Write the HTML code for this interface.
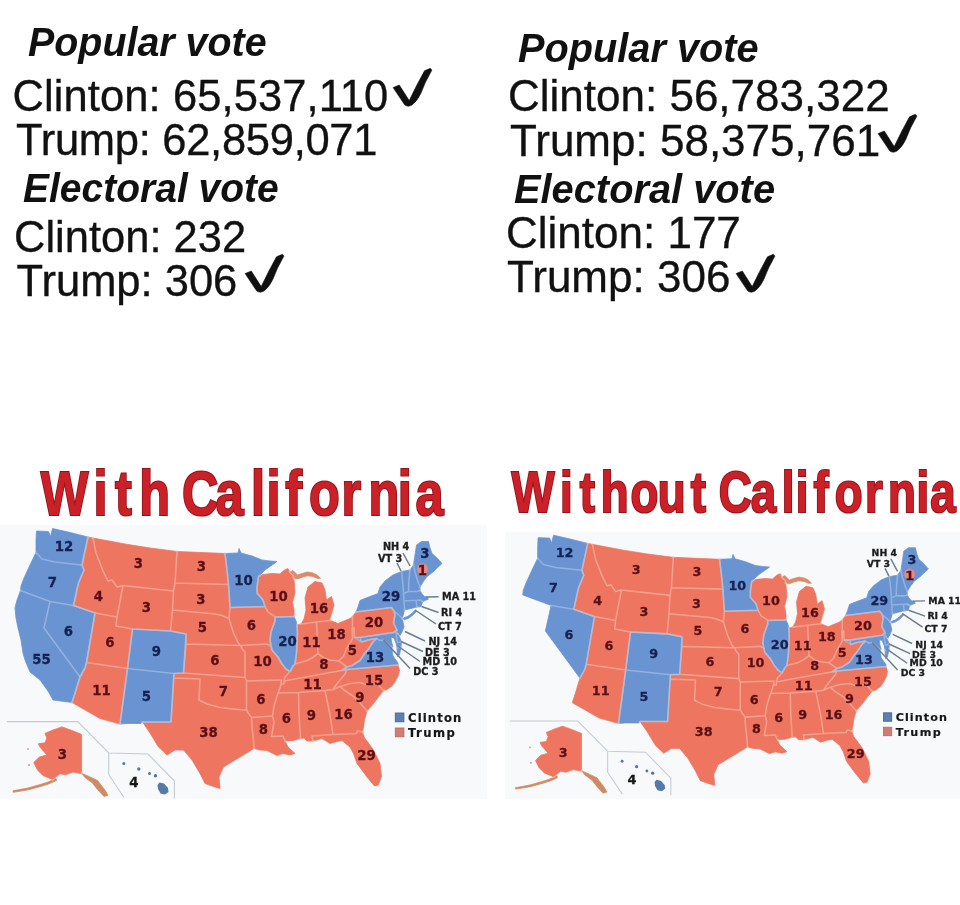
<!DOCTYPE html>
<html><head><meta charset="utf-8"><title>With / Without California</title>
<style>
html,body{margin:0;padding:0;background:#fff;}
body{width:960px;height:905px;position:relative;overflow:hidden;font-family:"Liberation Sans",sans-serif;color:#111;}
.t{position:absolute;white-space:nowrap;line-height:1;margin:0;}
.h{font-weight:bold;font-style:italic;font-size:40px;transform-origin:0 50%;}
.r{font-size:43.5px;-webkit-text-stroke:0.35px #111;}
.r2{font-size:44px;-webkit-text-stroke:0.35px #111;}
.ck{position:absolute;overflow:visible;}
svg text.n{font-family:"DejaVu Sans","Liberation Sans",sans-serif;font-weight:bold;font-size:13.3px;fill:#5a1116;stroke:#5a1116;stroke-width:0.3px;}
svg text.b{fill:#172050;stroke:#172050;}
svg text.k{fill:#151515;stroke:#151515;}
svg text.s{font-family:"DejaVu Sans","Liberation Sans",sans-serif;font-weight:bold;font-size:9.7px;fill:#1c1c1c;stroke:#1c1c1c;stroke-width:0.3px;}
svg text.lg{font-family:"DejaVu Sans","Liberation Sans",sans-serif;font-weight:bold;font-size:11.6px;fill:#161616;stroke:#161616;stroke-width:0.2px;}
svg text.hd{font-family:"Liberation Sans",sans-serif;font-weight:bold;fill:#cc2028;stroke:#92141a;stroke-width:2.2px;paint-order:stroke;}
.map{position:absolute;left:0;top:0;}
</style></head><body>
<div class="t h" style="left:27.5px;top:21.5px;transform:scaleX(0.985)">Popular vote</div>
<div class="t r" style="left:12.5px;top:74.5px;letter-spacing:0.09px">Clinton: 65,537,110</div>
<div class="t r" style="left:16px;top:119px;letter-spacing:-0.28px">Trump: 62,859,071</div>
<div class="t h" style="left:22.5px;top:168px;transform:scaleX(0.975)">Electoral vote</div>
<div class="t r" style="left:14px;top:216px;">Clinton: 232</div>
<div class="t r" style="left:16.5px;top:260px;">Trump: 306</div>
<div class="t h" style="left:517.5px;top:27.5px;transform:scaleX(0.993)">Popular vote</div>
<div class="t r2" style="left:508px;top:74px;">Clinton: 56,783,322</div>
<div class="t r2" style="left:510px;top:118.5px;">Trump: 58,375,761</div>
<div class="t h" style="left:513.5px;top:169px;transform:scaleX(0.995)">Electoral vote</div>
<div class="t r2" style="left:506px;top:211px;">Clinton: 177</div>
<div class="t r2" style="left:507px;top:254.7px;">Trump: 306</div>
<div class="ck" style="left:393.1px;top:67.6px;"><svg class="ck" viewBox="0 0 40 40" width="40" height="40"><path d="M0.1 19.6 L6.3 17 L16.2 32.6 Q23.8 16.6 31.5 2.8 L37.3 0.3 L38.9 2.1 Q32 14 27.8 25.4 Q24.5 32 21.3 34.9 Q18 38.5 15.4 38.2 Q13 38 11.8 37.1 Z" fill="#101010" stroke="#101010" stroke-width="0.6" stroke-linejoin="round"/></svg></div>
<div class="ck" style="left:244.6px;top:253.7px;"><svg class="ck" viewBox="0 0 40 40" width="40" height="40"><path d="M0.1 19.6 L6.3 17 L16.2 32.6 Q23.8 16.6 31.5 2.8 L37.3 0.3 L38.9 2.1 Q32 14 27.8 25.4 Q24.5 32 21.3 34.9 Q18 38.5 15.4 38.2 Q13 38 11.8 37.1 Z" fill="#101010" stroke="#101010" stroke-width="0.6" stroke-linejoin="round"/></svg></div>
<div class="ck" style="left:877.5px;top:114.3px;"><svg class="ck" viewBox="0 0 40 40" width="40" height="40"><path d="M0.1 19.6 L6.3 17 L16.2 32.6 Q23.8 16.6 31.5 2.8 L37.3 0.3 L38.9 2.1 Q32 14 27.8 25.4 Q24.5 32 21.3 34.9 Q18 38.5 15.4 38.2 Q13 38 11.8 37.1 Z" fill="#101010" stroke="#101010" stroke-width="0.6" stroke-linejoin="round"/></svg></div>
<div class="ck" style="left:735.8px;top:254.3px;"><svg class="ck" viewBox="0 0 40 40" width="40" height="40"><path d="M0.1 19.6 L6.3 17 L16.2 32.6 Q23.8 16.6 31.5 2.8 L37.3 0.3 L38.9 2.1 Q32 14 27.8 25.4 Q24.5 32 21.3 34.9 Q18 38.5 15.4 38.2 Q13 38 11.8 37.1 Z" fill="#101010" stroke="#101010" stroke-width="0.6" stroke-linejoin="round"/></svg></div>
<svg class="map" width="960" height="905" viewBox="0 0 960 905">
<rect x="0" y="525" width="487" height="274" fill="#f7f9fb"/>
<rect x="505" y="532" width="455" height="267" fill="#f7f9fb"/>
<text class="hd" transform="scale(0.8,1)" y="515" font-size="63" x="50.8 116.9 143.7 174.1 184.1 227.6 269.5 313.8 333.2 356.6 386.4 427.0 460.6 497.2 519.5">With California</text>
<text class="hd" transform="scale(0.8,1)" y="512.5" font-size="57" x="639.3 700.1 724.8 751.1 788.0 822.1 863.3 873.3 898.3 938.3 977.1 994.8 1016.9 1043.5 1081.4 1109.9 1145.5 1162.8">Without California</text>
<defs><filter id="soft" x="-2%" y="-2%" width="104%" height="104%"><feGaussianBlur stdDeviation="0.6"/></filter></defs>
<g id="mapL" filter="url(#soft)">
<polygon points="88,537 93,538 96,553 103,571 108,581 112,580 117,587 123,585.5 117,617 95,613 73.5,605.5 78.5,583 84,570 82,565" fill="#ee7560" stroke="#ee7560" stroke-width="0.8" stroke-linejoin="round"/>
<polygon points="93,538 125,544 150,548 177,551.5 175,583 173.5,591 123,585.5 117,587 112,580 108,581 103,571 96,553" fill="#ee7560" stroke="#ee7560" stroke-width="0.8" stroke-linejoin="round"/>
<polygon points="123,585.5 173.5,591 172.5,610 170.5,631 132.5,629 116,626 117,617" fill="#ee7560" stroke="#ee7560" stroke-width="0.8" stroke-linejoin="round"/>
<polygon points="95,613 117,617 116,626 132.5,629 127.5,668.5 86.5,662.5" fill="#ee7560" stroke="#ee7560" stroke-width="0.8" stroke-linejoin="round"/>
<polygon points="86.5,662.5 127.5,668.5 120,724 100,718.5 72,702.5 76,690 80,677 85,668" fill="#ee7560" stroke="#ee7560" stroke-width="0.8" stroke-linejoin="round"/>
<polygon points="177,551.5 225,553.5 227,570 228.5,584.5 175,583" fill="#ee7560" stroke="#ee7560" stroke-width="0.8" stroke-linejoin="round"/>
<polygon points="175,583 228.5,584.5 230,607.5 229,618.5 222,615.5 215,614 172.5,610 173.5,591" fill="#ee7560" stroke="#ee7560" stroke-width="0.8" stroke-linejoin="round"/>
<polygon points="172.5,610 215,614 222,615.5 229,618.5 233.5,633 238.5,643.5 240.5,645.5 186,644 186,634 170.5,631" fill="#ee7560" stroke="#ee7560" stroke-width="0.8" stroke-linejoin="round"/>
<polygon points="186,644 240.5,645.5 243,650 245,652 245,677.5 183.5,673" fill="#ee7560" stroke="#ee7560" stroke-width="0.8" stroke-linejoin="round"/>
<polygon points="174,673.5 183.5,673 245,677.5 246.5,681 246.5,710 243,710 233,709 220,707.5 207,704 199,700 200,679 173.7,678" fill="#ee7560" stroke="#ee7560" stroke-width="0.8" stroke-linejoin="round"/>
<polygon points="173.7,678 200,679 199,700 207,704 220,707.5 233,709 243,710 246.5,710 248.5,713.5 251.5,717.5 252,727 253.5,740 254,748.5 240,757 223.5,767 219,777 220,788.5 215,787 205,783.5 200,773.5 192,760 183.5,750 175,750 167,755 158.5,747 150,733 143.5,723.5 142,722 171,722" fill="#ee7560" stroke="#ee7560" stroke-width="0.8" stroke-linejoin="round"/>
<polygon points="230,607.5 265,606.5 268,612 274,616 275,617 275,621 271,632 270,640 271,646 267,644 240.5,645.5 238.5,643.5 233.5,633 229,618.5" fill="#ee7560" stroke="#ee7560" stroke-width="0.8" stroke-linejoin="round"/>
<polygon points="240.5,645.5 267,644 271,646 272,650 278,657 282,664 286,669 290,671.5 285,677 284,681 284,684 281,684 281.5,680 246.5,681 245,677.5 245,652 243,650" fill="#ee7560" stroke="#ee7560" stroke-width="0.8" stroke-linejoin="round"/>
<polygon points="246.5,681 281.5,680 281,684 280,688 278,693 274,706 272.5,716 251.5,717.5 248.5,713.5 246.5,710" fill="#ee7560" stroke="#ee7560" stroke-width="0.8" stroke-linejoin="round"/>
<polygon points="251.5,717.5 272.5,716 274,722 273,728 271.5,736.5 283,736 285,741 288,747 295,753.5 290,755 283,753.5 277,755.5 267,750.5 260,750 254,748.5 253.5,740 252,727" fill="#ee7560" stroke="#ee7560" stroke-width="0.8" stroke-linejoin="round"/>
<polygon points="278,693 298.5,692.5 299,715 300.5,738.5 293,740.5 285,741 283,736 271.5,736.5 273,728 274,722 272.5,716 274,706" fill="#ee7560" stroke="#ee7560" stroke-width="0.8" stroke-linejoin="round"/>
<polygon points="298.5,692.5 325,690.5 330,715 332,728 333,734.5 312,736 313,741 307,741 304,738 300.5,738.5 299,715" fill="#ee7560" stroke="#ee7560" stroke-width="0.8" stroke-linejoin="round"/>
<polygon points="284,681 300,678 341.5,670.5 347,669.5 345,674 340,680 336,685 333,689.5 325,690.5 298.5,692.5 278,693 280,688 281,684 284,684" fill="#ee7560" stroke="#ee7560" stroke-width="0.8" stroke-linejoin="round"/>
<polygon points="284,681 285,677 290,671.5 293,666 295,664 298,663 306,661 312,658 318,653.5 324,658 330,660 338.5,661 343,664 347,667 341.5,670.5 300,678" fill="#ee7560" stroke="#ee7560" stroke-width="0.8" stroke-linejoin="round"/>
<polygon points="258.5,576.5 263,574.5 272,573.5 280,574 284.5,570 288,568.5 289.5,572 293,575.5 294.5,584 295,592.5 292.5,602.5 294,610 294,616.5 275,617 274,616 268,612 265,606.5 263,600 257,593 257,587" fill="#ee7560" stroke="#ee7560" stroke-width="0.8" stroke-linejoin="round"/>
<polygon points="289.5,572 293,570.5 297.5,575 302,573.5 307.5,572 313,573 317.5,575.3 320.5,578.3 317.5,578.5 313,576.5 307.5,575.8 302,577.2 297.5,579 294,578 293,575.5" fill="#dd8a68" stroke="#dd8a68" stroke-width="0.8" stroke-linejoin="round"/>
<polygon points="301,624 304,619 306,610 305,598 308,587 315,581.5 322,583 325,590 326.5,600 331.5,596.5 334,605 332,612 330,618.5 330,620.5 316.5,622" fill="#ee7560" stroke="#ee7560" stroke-width="0.8" stroke-linejoin="round"/>
<polygon points="297,625 301,624 316.5,622 318,653.5 312,658 306,661 298,663 295,664 296.5,653 297.5,633" fill="#ee7560" stroke="#ee7560" stroke-width="0.8" stroke-linejoin="round"/>
<polygon points="316.5,622 330,620.5 338,623.5 350,618.5 352.5,616.5 352.5,638.5 350,643 346.5,648.5 343.5,656.5 338.5,661 330,660 324,658 318,653.5" fill="#ee7560" stroke="#ee7560" stroke-width="0.8" stroke-linejoin="round"/>
<polygon points="338.5,661 343.5,656.5 346.5,648.5 350,643 352.5,638.5 352,628 354,628 354.5,637.5 360,637.5 361.5,642 368,640 376.5,638.5 373,642 368.5,649 365,653 360,660.5 352,665.5 347,667 343,664" fill="#ee7560" stroke="#ee7560" stroke-width="0.8" stroke-linejoin="round"/>
<polygon points="352.5,616.5 356,612 391.5,607.5 394,611 395,615 393.5,623 397,630 395.5,631 393.5,632.5 360,637.5 354.5,637.5 354,628 352,628 352.5,638.5" fill="#ee7560" stroke="#ee7560" stroke-width="0.8" stroke-linejoin="round"/>
<polygon points="347,669.5 398,665 399.5,670 398.5,675 395.5,681 392,686 387,689.5 383.5,690.5 377,683.5 367,685 360,682.5 350,683.5 340,686.5 333,689.5 336,685 340,680 345,674" fill="#ee7560" stroke="#ee7560" stroke-width="0.8" stroke-linejoin="round"/>
<polygon points="340,686.5 350,683.5 360,682.5 367,685 377,683.5 383.5,690.5 378,697.5 373.5,703.5 367,711 360,703 353.5,696.5 344,690" fill="#ee7560" stroke="#ee7560" stroke-width="0.8" stroke-linejoin="round"/>
<polygon points="325,690.5 333,689.5 340,686.5 344,690 353.5,696.5 360,703 367,711 364.5,720 363.5,727 362.5,732 357.5,731 356.5,733.5 333,734.5 332,728 330,715" fill="#ee7560" stroke="#ee7560" stroke-width="0.8" stroke-linejoin="round"/>
<polygon points="312,736 333,734.5 356.5,733.5 357.5,731 362.5,732 364.5,738 367,741 373.5,750 380,763.5 381.5,776.5 378.3,785 374.5,786 367,777 357,763.5 353.5,753.5 350,747 342,740.5 337,741.5 330,743.5 322,738.5 313,741" fill="#ee7560" stroke="#ee7560" stroke-width="0.8" stroke-linejoin="round"/>
<polygon points="45,733.4 53,730 61.9,726.9 72,730.5 81.6,734.4 81.6,773.75 73,772 65.6,774.7 60,773.75 52.5,779.4 43,775.6 37.5,770 33.75,762.5 39.4,757 46.9,755 40.3,747.5 38.4,743.75 45,742.8 46.9,738" fill="#ee7560" stroke="#ee7560" stroke-width="0.8" stroke-linejoin="round"/>
<polygon points="81.6,773.2 90,777 97.5,780.5 105,790.2 108,795.3 104,796.5 97.5,789.5 92.5,783 85,777.5" fill="#cf8a63" stroke="#cf8a63" stroke-width="0.8" stroke-linejoin="round"/>
<polygon points="56,778.5 48,782 41,784.3 28,788 13,790.8 13.3,792.3 28.5,789.8 41.5,786.2 49,783.8 56.5,780.5" fill="#cf8a63" stroke="#cf8a63" stroke-width="0.8" stroke-linejoin="round"/>
<polygon points="36.5,531 48.5,531.5 50.5,536.5 52.5,528.5 70,532.5 88,537 82,565 55,562 42,559 36,552.5 36,540" fill="#6993d1" stroke="#6993d1" stroke-width="0.8" stroke-linejoin="round"/>
<polygon points="36,552.5 42,559 55,562 82,565 84,570 78.5,583 73.5,605.5 50,601.5 20.5,590.5 21,586 24,578 30,565" fill="#6993d1" stroke="#6993d1" stroke-width="0.8" stroke-linejoin="round"/>
<polygon points="20.5,590.5 50,601.5 44,628 80,677 76,690 72,702.5 53,700 48,691 40,680 30,672 25,660 23,653 21,640 18,628 16,618 15,608 17,600" fill="#6993d1" stroke="#6993d1" stroke-width="0.8" stroke-linejoin="round"/>
<polygon points="50,601.5 73.5,605.5 95,613 86.5,662.5 85,668 80,677 44,628" fill="#6993d1" stroke="#6993d1" stroke-width="0.8" stroke-linejoin="round"/>
<polygon points="132.5,629 170.5,631 186,634 183.5,673 174,673.5 127.5,668.5" fill="#6993d1" stroke="#6993d1" stroke-width="0.8" stroke-linejoin="round"/>
<polygon points="127.5,668.5 174,673.5 171,722 142,722 141,723.5 127,723.5 120,724" fill="#6993d1" stroke="#6993d1" stroke-width="0.8" stroke-linejoin="round"/>
<polygon points="225,553.5 238,553 239,548.5 241,553 252,556 262,560 270,561 277,561.5 265,570 258.5,576.5 257,587 257,593 263,600 265,606.5 230,607.5 228.5,584.5 227,570" fill="#6993d1" stroke="#6993d1" stroke-width="0.8" stroke-linejoin="round"/>
<polygon points="275,617 294,616.5 296,621 297,625 297.5,633 296.5,653 295,664 293,666 290,671.5 286,669 282,664 278,657 272,650 271,646 270,640 271,632 275,621" fill="#6993d1" stroke="#6993d1" stroke-width="0.8" stroke-linejoin="round"/>
<polygon points="341.5,670.5 347,667 352,665.5 360,660.5 365,653 368.5,649 373,642 376.5,638.5 380,640.5 383.5,640 388,644 391.5,647 393,656 398,663 398,665 347,669.5" fill="#6993d1" stroke="#6993d1" stroke-width="0.8" stroke-linejoin="round"/>
<polygon points="397,648 401,647 399.5,655 397.5,656.5" fill="#6993d1" stroke="#6993d1" stroke-width="0.8" stroke-linejoin="round"/>
<polygon points="356,612 358,607 360,600.5 363.5,599 378,593.5 380,587 385,581 393,575 401.5,571.5 403,585 403.5,593.5 404,601 404.5,610 403.5,614 402,618.5 400,616 394,611 391.5,607.5" fill="#6993d1" stroke="#6993d1" stroke-width="0.8" stroke-linejoin="round"/>
<polygon points="401.5,571.5 410,570 409,580 408.5,591.5 403.5,593.5 403,585" fill="#6993d1" stroke="#6993d1" stroke-width="0.8" stroke-linejoin="round"/>
<polygon points="410,570 413.5,565 415,572 418,582 420,587 420,590.5 417,591.5 408.5,591.5 409,580" fill="#6993d1" stroke="#6993d1" stroke-width="0.8" stroke-linejoin="round"/>
<polygon points="413.5,565 415,555 416.5,545 421.5,541.5 428.5,541.5 430,548 432,553.5 437,558 442,563.5 437,568 433,572 427,576.5 423,582 420,587 418,582 415,572" fill="#6993d1" stroke="#6993d1" stroke-width="0.8" stroke-linejoin="round"/>
<polygon points="403.5,593.5 408.5,591.5 417,591.5 420,590.5 422,594 424.5,596.5 427.5,597.3 428.3,599.3 425.5,600.3 423,601.5 420,600 404,601" fill="#6993d1" stroke="#6993d1" stroke-width="0.8" stroke-linejoin="round"/>
<polygon points="404,601 416,600.3 417,607 413,608 404.5,610" fill="#6993d1" stroke="#6993d1" stroke-width="0.8" stroke-linejoin="round"/>
<polygon points="416,600.3 420,600 422.5,602 421,606.5 417,607" fill="#6993d1" stroke="#6993d1" stroke-width="0.8" stroke-linejoin="round"/>
<polygon points="403.5,618 408,616.3 412,613.3 415.5,609.8 416.3,611.5 412.5,615.5 408,618.5 404,619.8" fill="#6993d1" stroke="#6993d1" stroke-width="0.8" stroke-linejoin="round"/>
<polygon points="394,611 400,616 402,618.5 403,622 404,627 402,632 400,635.5 396.5,632 397,630 393.5,623 395,615" fill="#6993d1" stroke="#6993d1" stroke-width="0.8" stroke-linejoin="round"/>
<polygon points="395.5,631 397,630 396.5,632.5 399.5,637 401.5,642 397.5,642.5" fill="#6993d1" stroke="#6993d1" stroke-width="0.8" stroke-linejoin="round"/>
<polygon points="354.5,637.5 360,637.5 393.5,632.5 395.5,631 397.5,642.5 401.5,642 401,647 397,648 396,643 394,638 391,637 391.5,642 393,647 391.5,647 388,644 383.5,640 380,640.5 376.5,638.5 368,640 361.5,642" fill="#6993d1" stroke="#6993d1" stroke-width="0.8" stroke-linejoin="round"/>
<path d="M88.7 537.1 L88.0 537.0 L82.0 565.0 L84.0 570.0 L78.5 583.0 L73.5 605.5 L95.0 613.0 L117.0 617.0 L123.0 585.5 L117.0 587.0 L112.0 580.0 L108.0 581.0 L103.0 571.0 L96.0 553.0 L93.0 538.0 L92.3 537.9 M93.7 538.1 L93.0 538.0 L96.0 553.0 L103.0 571.0 L108.0 581.0 L112.0 580.0 L117.0 587.0 L123.0 585.5 L173.5 591.0 L175.0 583.0 L177.0 551.5 L176.3 551.4 M123.0 585.5 L117.0 617.0 L116.0 626.0 L132.5 629.0 L170.5 631.0 L172.5 610.0 L173.5 591.0 L123.0 585.5 M95.0 613.0 L86.5 662.5 L127.5 668.5 L132.5 629.0 L116.0 626.0 L117.0 617.0 L95.0 613.0 M119.3 723.8 L120.0 724.0 L127.5 668.5 L86.5 662.5 L85.0 668.0 L80.0 677.0 L76.0 690.0 L72.0 702.5 L72.6 702.8 M177.7 551.5 L177.0 551.5 L175.0 583.0 L228.5 584.5 L227.0 570.0 L225.0 553.5 L224.3 553.5 M175.0 583.0 L173.5 591.0 L172.5 610.0 L215.0 614.0 L222.0 615.5 L229.0 618.5 L230.0 607.5 L228.5 584.5 L175.0 583.0 M172.5 610.0 L170.5 631.0 L186.0 634.0 L186.0 644.0 L240.5 645.5 L238.5 643.5 L233.5 633.0 L229.0 618.5 L222.0 615.5 L215.0 614.0 L172.5 610.0 M186.0 644.0 L183.5 673.0 L245.0 677.5 L245.0 652.0 L243.0 650.0 L240.5 645.5 L186.0 644.0 M174.0 673.5 L173.7 678.0 L200.0 679.0 L199.0 700.0 L207.0 704.0 L220.0 707.5 L233.0 709.0 L243.0 710.0 L246.5 710.0 L246.5 681.0 L245.0 677.5 L183.5 673.0 L174.0 673.5 M253.4 748.9 L254.0 748.5 L253.5 740.0 L252.0 727.0 L251.5 717.5 L248.5 713.5 L246.5 710.0 L243.0 710.0 L233.0 709.0 L220.0 707.5 L207.0 704.0 L199.0 700.0 L200.0 679.0 L173.7 678.0 L171.0 722.0 L142.0 722.0 L142.7 722.7 M230.0 607.5 L229.0 618.5 L233.5 633.0 L238.5 643.5 L240.5 645.5 L267.0 644.0 L271.0 646.0 L270.0 640.0 L271.0 632.0 L275.0 621.0 L275.0 617.0 L274.0 616.0 L268.0 612.0 L265.0 606.5 L230.0 607.5 M240.5 645.5 L243.0 650.0 L245.0 652.0 L245.0 677.5 L246.5 681.0 L281.5 680.0 L281.0 684.0 L284.0 684.0 L284.0 681.0 L285.0 677.0 L290.0 671.5 L286.0 669.0 L282.0 664.0 L278.0 657.0 L272.0 650.0 L271.0 646.0 L267.0 644.0 L240.5 645.5 M246.5 681.0 L246.5 710.0 L248.5 713.5 L251.5 717.5 L272.5 716.0 L274.0 706.0 L278.0 693.0 L280.0 688.0 L281.0 684.0 L281.5 680.0 L246.5 681.0 M285.3 741.7 L285.0 741.0 L283.0 736.0 L271.5 736.5 L273.0 728.0 L274.0 722.0 L272.5 716.0 L251.5 717.5 L252.0 727.0 L253.5 740.0 L254.0 748.5 L254.7 748.7 M299.8 738.7 L300.5 738.5 L299.0 715.0 L298.5 692.5 L278.0 693.0 L274.0 706.0 L272.5 716.0 L274.0 722.0 L273.0 728.0 L271.5 736.5 L283.0 736.0 L285.0 741.0 L285.8 741.0 M312.3 741.0 L313.0 741.0 L312.0 736.0 L333.0 734.5 L332.0 728.0 L330.0 715.0 L325.0 690.5 L298.5 692.5 L299.0 715.0 L300.5 738.5 L301.2 738.4 M284.0 681.0 L284.0 684.0 L281.0 684.0 L280.0 688.0 L278.0 693.0 L298.5 692.5 L325.0 690.5 L333.0 689.5 L336.0 685.0 L340.0 680.0 L345.0 674.0 L347.0 669.5 L341.5 670.5 L300.0 678.0 L284.0 681.0 M284.0 681.0 L300.0 678.0 L341.5 670.5 L347.0 667.0 L343.0 664.0 L338.5 661.0 L330.0 660.0 L324.0 658.0 L318.0 653.5 L312.0 658.0 L306.0 661.0 L298.0 663.0 L295.0 664.0 L293.0 666.0 L290.0 671.5 L285.0 677.0 L284.0 681.0 M260.3 575.7 L258.5 576.5 L257.0 587.0 L257.0 593.0 L263.0 600.0 L265.0 606.5 L268.0 612.0 L274.0 616.0 L275.0 617.0 L294.0 616.5 L294.0 615.8 M293.5 578.5 L293.0 575.5 L289.5 572.0 L289.2 571.4 M290.2 571.7 L289.5 572.0 L293.0 575.5 L294.0 578.0 L294.2 578.0 M301.5 623.2 L301.0 624.0 L316.5 622.0 L330.0 620.5 L330.0 619.8 M297.7 624.8 L297.0 625.0 L297.5 633.0 L296.5 653.0 L295.0 664.0 L298.0 663.0 L306.0 661.0 L312.0 658.0 L318.0 653.5 L316.5 622.0 L301.0 624.0 L300.3 624.2 M330.7 620.7 L330.0 620.5 L316.5 622.0 L318.0 653.5 L324.0 658.0 L330.0 660.0 L338.5 661.0 L343.5 656.5 L346.5 648.5 L350.0 643.0 L352.5 638.5 L352.5 616.5 L351.8 617.1 M338.5 661.0 L343.0 664.0 L347.0 667.0 L352.0 665.5 L360.0 660.5 L365.0 653.0 L368.5 649.0 L373.0 642.0 L376.5 638.5 L368.0 640.0 L361.5 642.0 L360.0 637.5 L354.5 637.5 L354.0 628.0 L352.0 628.0 L352.5 638.5 L350.0 643.0 L346.5 648.5 L343.5 656.5 L338.5 661.0 M352.9 615.9 L352.5 616.5 L352.5 628.0 L354.0 628.0 L354.5 637.5 L360.0 637.5 L393.5 632.5 L395.5 631.0 L397.0 630.0 L393.5 623.0 L395.0 615.0 L394.0 611.0 L391.5 607.5 L356.0 612.0 L355.6 612.6 M398.2 665.7 L398.0 665.0 L347.0 669.5 L345.0 674.0 L340.0 680.0 L336.0 685.0 L333.0 689.5 L340.0 686.5 L350.0 683.5 L360.0 682.5 L367.0 685.0 L377.0 683.5 L383.5 690.5 L384.2 690.3 M383.1 691.0 L383.5 690.5 L377.0 683.5 L367.0 685.0 L360.0 682.5 L350.0 683.5 L340.0 686.5 L344.0 690.0 L353.5 696.5 L360.0 703.0 L367.0 711.0 L367.5 710.5 M366.8 711.7 L367.0 711.0 L360.0 703.0 L353.5 696.5 L344.0 690.0 L340.0 686.5 L333.0 689.5 L325.0 690.5 L330.0 715.0 L332.0 728.0 L333.0 734.5 L356.5 733.5 L357.5 731.0 L362.5 732.0 L362.6 731.3 M362.7 732.7 L362.5 732.0 L357.5 731.0 L356.5 733.5 L333.0 734.5 L312.0 736.0 L313.0 741.0 L313.7 740.8 M81.1 773.6 L81.6 773.8 L81.6 772.5 M82.3 773.5 L81.6 773.2 L82.2 774.0 M53.3 779.7 L52.4 780.1" fill="none" stroke="#f8bcae" stroke-width="1.6" stroke-opacity="0.6" stroke-linejoin="round" stroke-linecap="round"/>
<path d="M36.0 551.8 L36.0 552.5 L42.0 559.0 L55.0 562.0 L82.0 565.0 L88.0 537.0 L87.3 536.8 M20.6 589.8 L20.5 590.5 L50.0 601.5 L73.5 605.5 L78.5 583.0 L84.0 570.0 L82.0 565.0 L55.0 562.0 L42.0 559.0 L36.0 552.5 L35.7 553.2 M71.3 702.4 L72.0 702.5 L76.0 690.0 L80.0 677.0 L44.0 628.0 L50.0 601.5 L20.5 590.5 L20.3 591.2 M50.0 601.5 L44.0 628.0 L80.0 677.0 L85.0 668.0 L86.5 662.5 L95.0 613.0 L73.5 605.5 L50.0 601.5 M132.5 629.0 L127.5 668.5 L174.0 673.5 L183.5 673.0 L186.0 634.0 L170.5 631.0 L132.5 629.0 M141.6 722.6 L142.0 722.0 L171.0 722.0 L174.0 673.5 L127.5 668.5 L120.0 724.0 L120.7 723.9 M225.7 553.5 L225.0 553.5 L227.0 570.0 L228.5 584.5 L230.0 607.5 L265.0 606.5 L263.0 600.0 L257.0 593.0 L257.0 587.0 L258.5 576.5 L259.9 575.1 M294.3 617.1 L294.0 616.5 L275.0 617.0 L275.0 621.0 L271.0 632.0 L270.0 640.0 L271.0 646.0 L272.0 650.0 L278.0 657.0 L282.0 664.0 L286.0 669.0 L290.0 671.5 L293.0 666.0 L295.0 664.0 L296.5 653.0 L297.5 633.0 L297.0 625.0 L296.8 624.3 M391.6 647.7 L391.5 647.0 L388.0 644.0 L383.5 640.0 L380.0 640.5 L376.5 638.5 L373.0 642.0 L368.5 649.0 L365.0 653.0 L360.0 660.5 L352.0 665.5 L347.0 667.0 L341.5 670.5 L347.0 669.5 L398.0 665.0 L398.0 664.3 M400.9 647.8 L401.0 647.0 L397.0 648.0 L397.0 648.7 M356.3 611.3 L356.0 612.0 L391.5 607.5 L394.0 611.0 L400.0 616.0 L402.0 618.5 L402.3 617.7 M404.3 610.7 L404.5 610.0 L404.0 601.0 L403.5 593.5 L403.0 585.0 L401.5 571.5 L400.8 571.8 M402.2 571.4 L401.5 571.5 L403.0 585.0 L403.5 593.5 L408.5 591.5 L409.0 580.0 L410.0 570.0 L409.3 570.1 M410.4 569.4 L410.0 570.0 L409.0 580.0 L408.5 591.5 L417.0 591.5 L420.0 590.5 L420.0 589.8 M420.0 587.7 L420.0 587.0 L418.0 582.0 L415.0 572.0 L413.5 565.0 L413.0 565.8 M413.6 564.3 L413.5 565.0 L415.0 572.0 L418.0 582.0 L420.0 587.0 L420.5 586.2 M420.3 591.1 L420.0 590.5 L417.0 591.5 L408.5 591.5 L403.5 593.5 L404.0 601.0 L420.0 600.0 L423.0 601.5 M416.3 607.2 L417.0 607.0 L416.0 600.3 L404.0 601.0 L404.5 610.0 L405.2 609.8 M422.5 602.0 L422.5 602.0 L420.0 600.0 L416.0 600.3 L417.0 607.0 L417.7 606.9 M402.2 619.2 L402.0 618.5 L400.0 616.0 L394.0 611.0 L395.0 615.0 L393.5 623.0 L397.0 630.0 L396.5 632.0 L398.0 633.5 M397.5 634.0 L396.5 632.5 L397.0 630.0 L395.5 631.0 L397.5 642.5 L401.5 642.0 L401.2 641.3 M401.4 642.7 L401.5 642.0 L397.5 642.5 L395.5 631.0 L393.5 632.5 L360.0 637.5 L354.5 637.5 L361.5 642.0 L368.0 640.0 L376.5 638.5 L380.0 640.5 L383.5 640.0 L388.0 644.0 L391.5 647.0 L392.2 647.0 M396.9 647.3 L397.0 648.0 L401.0 647.0 L401.1 646.3" fill="none" stroke="#adc4e6" stroke-width="1.6" stroke-opacity="0.6" stroke-linejoin="round" stroke-linecap="round"/>
<ellipse cx="422.5" cy="569" rx="5.5" ry="6" fill="#e58a80"/>
<circle cx="123.8" cy="763.4" r="1.5" fill="#56779f"/>
<circle cx="138.8" cy="769" r="1.7" fill="#56779f"/>
<circle cx="149.5" cy="773.5" r="1.5" fill="#56779f"/>
<circle cx="155.5" cy="775.8" r="1.7" fill="#56779f"/>
<circle cx="29" cy="765" r="1.1" fill="#c9a99a"/>
<circle cx="28" cy="749" r="1" fill="#c9a99a"/>
<polygon points="159.5,782.5 164,783.5 168,788 168.5,792 165,794.5 160.5,793.5 158,789 157.5,785" fill="#557aa6"/>
<polyline points="7,721.6 77.8,721.6 108.75,753 148,754 174.4,781 174.4,798.5" fill="none" stroke="#c3ccd3" stroke-width="1.1"/>
<polyline points="108.75,753 108.75,774.7 124,797.5" fill="none" stroke="#c3ccd3" stroke-width="1.1"/>
<line x1="403" y1="553" x2="410" y2="566" stroke="#6b7f88" stroke-width="1.5"/>
<line x1="397" y1="563" x2="401" y2="571" stroke="#6b7f88" stroke-width="1.5"/>
<line x1="426" y1="597" x2="438.5" y2="596.7" stroke="#6b7f88" stroke-width="1.5"/>
<line x1="421.5" y1="606.5" x2="438.5" y2="612.5" stroke="#6b7f88" stroke-width="1.5"/>
<line x1="415" y1="610" x2="436" y2="624" stroke="#6b7f88" stroke-width="1.5"/>
<line x1="405" y1="631.5" x2="425" y2="641" stroke="#6b7f88" stroke-width="1.5"/>
<line x1="401" y1="641.5" x2="423" y2="651.5" stroke="#6b7f88" stroke-width="1.5"/>
<line x1="398.5" y1="646.5" x2="420" y2="661.5" stroke="#6b7f88" stroke-width="1.5"/>
<line x1="383.5" y1="640" x2="410" y2="668.5" stroke="#6b7f88" stroke-width="1.5"/>
<rect x="395.3" y="713" width="8.6" height="8.8" fill="#5a80b2" stroke="#486a92" stroke-width="0.9"/>
<rect x="395.3" y="728" width="8.6" height="8.8" fill="#d27a74" stroke="#b66e68" stroke-width="0.9"/>
<text x="408" y="721.8" class="lg" textLength="53.3" lengthAdjust="spacing">Clinton</text>
<text x="408" y="737" class="lg" textLength="46.8" lengthAdjust="spacing">Trump</text>
<text x="64" y="551.4" class="n b" text-anchor="middle">12</text>
<text x="52.5" y="587.4" class="n b" text-anchor="middle">7</text>
<text x="68.5" y="636.4" class="n b" text-anchor="middle">6</text>
<text x="41.5" y="663.9" class="n b" text-anchor="middle">55</text>
<text x="138.5" y="568.4" class="n" text-anchor="middle">3</text>
<text x="98.5" y="600.9" class="n" text-anchor="middle">4</text>
<text x="146.5" y="612.4" class="n" text-anchor="middle">3</text>
<text x="110" y="647.4" class="n" text-anchor="middle">6</text>
<text x="156.5" y="656.4" class="n b" text-anchor="middle">9</text>
<text x="101.5" y="694.9" class="n" text-anchor="middle">11</text>
<text x="146.5" y="700.9" class="n b" text-anchor="middle">5</text>
<text x="201.5" y="570.9" class="n" text-anchor="middle">3</text>
<text x="201" y="603.9" class="n" text-anchor="middle">3</text>
<text x="202.5" y="632.4" class="n" text-anchor="middle">5</text>
<text x="215" y="664.9" class="n" text-anchor="middle">6</text>
<text x="223.5" y="695.9" class="n" text-anchor="middle">7</text>
<text x="208.5" y="737.4" class="n" text-anchor="middle">38</text>
<text x="243.5" y="584.9" class="n b" text-anchor="middle">10</text>
<text x="251.5" y="629.9" class="n" text-anchor="middle">6</text>
<text x="262.5" y="665.9" class="n" text-anchor="middle">10</text>
<text x="261" y="703.9" class="n" text-anchor="middle">6</text>
<text x="263.5" y="733.9" class="n" text-anchor="middle">8</text>
<text x="278.5" y="600.9" class="n" text-anchor="middle">10</text>
<text x="287.5" y="646.4" class="n b" text-anchor="middle">20</text>
<text x="319" y="613.4" class="n" text-anchor="middle">16</text>
<text x="311.5" y="647.4" class="n" text-anchor="middle">11</text>
<text x="336.5" y="638.9" class="n" text-anchor="middle">18</text>
<text x="324" y="668.9" class="n" text-anchor="middle">8</text>
<text x="312.5" y="688.9" class="n" text-anchor="middle">11</text>
<text x="286.5" y="722.9" class="n" text-anchor="middle">6</text>
<text x="311.5" y="719.9" class="n" text-anchor="middle">9</text>
<text x="343.5" y="719.4" class="n" text-anchor="middle">16</text>
<text x="366.5" y="759.9" class="n" text-anchor="middle">29</text>
<text x="360" y="702.4" class="n" text-anchor="middle">9</text>
<text x="374" y="684.9" class="n" text-anchor="middle">15</text>
<text x="375" y="662.4" class="n b" text-anchor="middle">13</text>
<text x="352.5" y="654.9" class="n" text-anchor="middle">5</text>
<text x="374" y="627.4" class="n" text-anchor="middle">20</text>
<text x="391" y="601.4" class="n b" text-anchor="middle">29</text>
<text x="425" y="558.4" class="n b" text-anchor="middle">3</text>
<text x="422.5" y="574.9" class="n" text-anchor="middle">1</text>
<text x="62.5" y="758.9" class="n" text-anchor="middle">3</text>
<text x="134" y="787.4" class="n k" text-anchor="middle">4</text>
<text x="383" y="549.9000000000001" class="s">NH 4</text>
<text x="378" y="561.5" class="s">VT 3</text>
<text x="442" y="599.9000000000001" class="s">MA 11</text>
<text x="441" y="616.0" class="s">RI 4</text>
<text x="438" y="629.5" class="s">CT 7</text>
<text x="428.5" y="645.2" class="s">NJ 14</text>
<text x="425" y="655.7" class="s">DE 3</text>
<text x="422.5" y="664.9000000000001" class="s">MD 10</text>
<text x="413.3" y="675.2" class="s">DC 3</text>
</g>
<g id="mapR" filter="url(#soft)" transform="translate(503.0,26.6) scale(0.9624)">
<polygon points="88,537 93,538 96,553 103,571 108,581 112,580 117,587 123,585.5 117,617 95,613 73.5,605.5 78.5,583 84,570 82,565" fill="#ee7560" stroke="#ee7560" stroke-width="0.8" stroke-linejoin="round"/>
<polygon points="93,538 125,544 150,548 177,551.5 175,583 173.5,591 123,585.5 117,587 112,580 108,581 103,571 96,553" fill="#ee7560" stroke="#ee7560" stroke-width="0.8" stroke-linejoin="round"/>
<polygon points="123,585.5 173.5,591 172.5,610 170.5,631 132.5,629 116,626 117,617" fill="#ee7560" stroke="#ee7560" stroke-width="0.8" stroke-linejoin="round"/>
<polygon points="95,613 117,617 116,626 132.5,629 127.5,668.5 86.5,662.5" fill="#ee7560" stroke="#ee7560" stroke-width="0.8" stroke-linejoin="round"/>
<polygon points="86.5,662.5 127.5,668.5 120,724 100,718.5 72,702.5 76,690 80,677 85,668" fill="#ee7560" stroke="#ee7560" stroke-width="0.8" stroke-linejoin="round"/>
<polygon points="177,551.5 225,553.5 227,570 228.5,584.5 175,583" fill="#ee7560" stroke="#ee7560" stroke-width="0.8" stroke-linejoin="round"/>
<polygon points="175,583 228.5,584.5 230,607.5 229,618.5 222,615.5 215,614 172.5,610 173.5,591" fill="#ee7560" stroke="#ee7560" stroke-width="0.8" stroke-linejoin="round"/>
<polygon points="172.5,610 215,614 222,615.5 229,618.5 233.5,633 238.5,643.5 240.5,645.5 186,644 186,634 170.5,631" fill="#ee7560" stroke="#ee7560" stroke-width="0.8" stroke-linejoin="round"/>
<polygon points="186,644 240.5,645.5 243,650 245,652 245,677.5 183.5,673" fill="#ee7560" stroke="#ee7560" stroke-width="0.8" stroke-linejoin="round"/>
<polygon points="174,673.5 183.5,673 245,677.5 246.5,681 246.5,710 243,710 233,709 220,707.5 207,704 199,700 200,679 173.7,678" fill="#ee7560" stroke="#ee7560" stroke-width="0.8" stroke-linejoin="round"/>
<polygon points="173.7,678 200,679 199,700 207,704 220,707.5 233,709 243,710 246.5,710 248.5,713.5 251.5,717.5 252,727 253.5,740 254,748.5 240,757 223.5,767 219,777 220,788.5 215,787 205,783.5 200,773.5 192,760 183.5,750 175,750 167,755 158.5,747 150,733 143.5,723.5 142,722 171,722" fill="#ee7560" stroke="#ee7560" stroke-width="0.8" stroke-linejoin="round"/>
<polygon points="230,607.5 265,606.5 268,612 274,616 275,617 275,621 271,632 270,640 271,646 267,644 240.5,645.5 238.5,643.5 233.5,633 229,618.5" fill="#ee7560" stroke="#ee7560" stroke-width="0.8" stroke-linejoin="round"/>
<polygon points="240.5,645.5 267,644 271,646 272,650 278,657 282,664 286,669 290,671.5 285,677 284,681 284,684 281,684 281.5,680 246.5,681 245,677.5 245,652 243,650" fill="#ee7560" stroke="#ee7560" stroke-width="0.8" stroke-linejoin="round"/>
<polygon points="246.5,681 281.5,680 281,684 280,688 278,693 274,706 272.5,716 251.5,717.5 248.5,713.5 246.5,710" fill="#ee7560" stroke="#ee7560" stroke-width="0.8" stroke-linejoin="round"/>
<polygon points="251.5,717.5 272.5,716 274,722 273,728 271.5,736.5 283,736 285,741 288,747 295,753.5 290,755 283,753.5 277,755.5 267,750.5 260,750 254,748.5 253.5,740 252,727" fill="#ee7560" stroke="#ee7560" stroke-width="0.8" stroke-linejoin="round"/>
<polygon points="278,693 298.5,692.5 299,715 300.5,738.5 293,740.5 285,741 283,736 271.5,736.5 273,728 274,722 272.5,716 274,706" fill="#ee7560" stroke="#ee7560" stroke-width="0.8" stroke-linejoin="round"/>
<polygon points="298.5,692.5 325,690.5 330,715 332,728 333,734.5 312,736 313,741 307,741 304,738 300.5,738.5 299,715" fill="#ee7560" stroke="#ee7560" stroke-width="0.8" stroke-linejoin="round"/>
<polygon points="284,681 300,678 341.5,670.5 347,669.5 345,674 340,680 336,685 333,689.5 325,690.5 298.5,692.5 278,693 280,688 281,684 284,684" fill="#ee7560" stroke="#ee7560" stroke-width="0.8" stroke-linejoin="round"/>
<polygon points="284,681 285,677 290,671.5 293,666 295,664 298,663 306,661 312,658 318,653.5 324,658 330,660 338.5,661 343,664 347,667 341.5,670.5 300,678" fill="#ee7560" stroke="#ee7560" stroke-width="0.8" stroke-linejoin="round"/>
<polygon points="258.5,576.5 263,574.5 272,573.5 280,574 284.5,570 288,568.5 289.5,572 293,575.5 294.5,584 295,592.5 292.5,602.5 294,610 294,616.5 275,617 274,616 268,612 265,606.5 263,600 257,593 257,587" fill="#ee7560" stroke="#ee7560" stroke-width="0.8" stroke-linejoin="round"/>
<polygon points="289.5,572 293,570.5 297.5,575 302,573.5 307.5,572 313,573 317.5,575.3 320.5,578.3 317.5,578.5 313,576.5 307.5,575.8 302,577.2 297.5,579 294,578 293,575.5" fill="#dd8a68" stroke="#dd8a68" stroke-width="0.8" stroke-linejoin="round"/>
<polygon points="301,624 304,619 306,610 305,598 308,587 315,581.5 322,583 325,590 326.5,600 331.5,596.5 334,605 332,612 330,618.5 330,620.5 316.5,622" fill="#ee7560" stroke="#ee7560" stroke-width="0.8" stroke-linejoin="round"/>
<polygon points="297,625 301,624 316.5,622 318,653.5 312,658 306,661 298,663 295,664 296.5,653 297.5,633" fill="#ee7560" stroke="#ee7560" stroke-width="0.8" stroke-linejoin="round"/>
<polygon points="316.5,622 330,620.5 338,623.5 350,618.5 352.5,616.5 352.5,638.5 350,643 346.5,648.5 343.5,656.5 338.5,661 330,660 324,658 318,653.5" fill="#ee7560" stroke="#ee7560" stroke-width="0.8" stroke-linejoin="round"/>
<polygon points="338.5,661 343.5,656.5 346.5,648.5 350,643 352.5,638.5 352,628 354,628 354.5,637.5 360,637.5 361.5,642 368,640 376.5,638.5 373,642 368.5,649 365,653 360,660.5 352,665.5 347,667 343,664" fill="#ee7560" stroke="#ee7560" stroke-width="0.8" stroke-linejoin="round"/>
<polygon points="352.5,616.5 356,612 391.5,607.5 394,611 395,615 393.5,623 397,630 395.5,631 393.5,632.5 360,637.5 354.5,637.5 354,628 352,628 352.5,638.5" fill="#ee7560" stroke="#ee7560" stroke-width="0.8" stroke-linejoin="round"/>
<polygon points="347,669.5 398,665 399.5,670 398.5,675 395.5,681 392,686 387,689.5 383.5,690.5 377,683.5 367,685 360,682.5 350,683.5 340,686.5 333,689.5 336,685 340,680 345,674" fill="#ee7560" stroke="#ee7560" stroke-width="0.8" stroke-linejoin="round"/>
<polygon points="340,686.5 350,683.5 360,682.5 367,685 377,683.5 383.5,690.5 378,697.5 373.5,703.5 367,711 360,703 353.5,696.5 344,690" fill="#ee7560" stroke="#ee7560" stroke-width="0.8" stroke-linejoin="round"/>
<polygon points="325,690.5 333,689.5 340,686.5 344,690 353.5,696.5 360,703 367,711 364.5,720 363.5,727 362.5,732 357.5,731 356.5,733.5 333,734.5 332,728 330,715" fill="#ee7560" stroke="#ee7560" stroke-width="0.8" stroke-linejoin="round"/>
<polygon points="312,736 333,734.5 356.5,733.5 357.5,731 362.5,732 364.5,738 367,741 373.5,750 380,763.5 381.5,776.5 378.3,785 374.5,786 367,777 357,763.5 353.5,753.5 350,747 342,740.5 337,741.5 330,743.5 322,738.5 313,741" fill="#ee7560" stroke="#ee7560" stroke-width="0.8" stroke-linejoin="round"/>
<polygon points="45,733.4 53,730 61.9,726.9 72,730.5 81.6,734.4 81.6,773.75 73,772 65.6,774.7 60,773.75 52.5,779.4 43,775.6 37.5,770 33.75,762.5 39.4,757 46.9,755 40.3,747.5 38.4,743.75 45,742.8 46.9,738" fill="#ee7560" stroke="#ee7560" stroke-width="0.8" stroke-linejoin="round"/>
<polygon points="81.6,773.2 90,777 97.5,780.5 105,790.2 108,795.3 104,796.5 97.5,789.5 92.5,783 85,777.5" fill="#cf8a63" stroke="#cf8a63" stroke-width="0.8" stroke-linejoin="round"/>
<polygon points="56,778.5 48,782 41,784.3 28,788 13,790.8 13.3,792.3 28.5,789.8 41.5,786.2 49,783.8 56.5,780.5" fill="#cf8a63" stroke="#cf8a63" stroke-width="0.8" stroke-linejoin="round"/>
<polygon points="36.5,531 48.5,531.5 50.5,536.5 52.5,528.5 70,532.5 88,537 82,565 55,562 42,559 36,552.5 36,540" fill="#6993d1" stroke="#6993d1" stroke-width="0.8" stroke-linejoin="round"/>
<polygon points="36,552.5 42,559 55,562 82,565 84,570 78.5,583 73.5,605.5 50,601.5 20.5,590.5 21,586 24,578 30,565" fill="#6993d1" stroke="#6993d1" stroke-width="0.8" stroke-linejoin="round"/>
<polygon points="50,601.5 73.5,605.5 95,613 86.5,662.5 85,668 80,677 44,628" fill="#6993d1" stroke="#6993d1" stroke-width="0.8" stroke-linejoin="round"/>
<polygon points="132.5,629 170.5,631 186,634 183.5,673 174,673.5 127.5,668.5" fill="#6993d1" stroke="#6993d1" stroke-width="0.8" stroke-linejoin="round"/>
<polygon points="127.5,668.5 174,673.5 171,722 142,722 141,723.5 127,723.5 120,724" fill="#6993d1" stroke="#6993d1" stroke-width="0.8" stroke-linejoin="round"/>
<polygon points="225,553.5 238,553 239,548.5 241,553 252,556 262,560 270,561 277,561.5 265,570 258.5,576.5 257,587 257,593 263,600 265,606.5 230,607.5 228.5,584.5 227,570" fill="#6993d1" stroke="#6993d1" stroke-width="0.8" stroke-linejoin="round"/>
<polygon points="275,617 294,616.5 296,621 297,625 297.5,633 296.5,653 295,664 293,666 290,671.5 286,669 282,664 278,657 272,650 271,646 270,640 271,632 275,621" fill="#6993d1" stroke="#6993d1" stroke-width="0.8" stroke-linejoin="round"/>
<polygon points="341.5,670.5 347,667 352,665.5 360,660.5 365,653 368.5,649 373,642 376.5,638.5 380,640.5 383.5,640 388,644 391.5,647 393,656 398,663 398,665 347,669.5" fill="#6993d1" stroke="#6993d1" stroke-width="0.8" stroke-linejoin="round"/>
<polygon points="397,648 401,647 399.5,655 397.5,656.5" fill="#6993d1" stroke="#6993d1" stroke-width="0.8" stroke-linejoin="round"/>
<polygon points="356,612 358,607 360,600.5 363.5,599 378,593.5 380,587 385,581 393,575 401.5,571.5 403,585 403.5,593.5 404,601 404.5,610 403.5,614 402,618.5 400,616 394,611 391.5,607.5" fill="#6993d1" stroke="#6993d1" stroke-width="0.8" stroke-linejoin="round"/>
<polygon points="401.5,571.5 410,570 409,580 408.5,591.5 403.5,593.5 403,585" fill="#6993d1" stroke="#6993d1" stroke-width="0.8" stroke-linejoin="round"/>
<polygon points="410,570 413.5,565 415,572 418,582 420,587 420,590.5 417,591.5 408.5,591.5 409,580" fill="#6993d1" stroke="#6993d1" stroke-width="0.8" stroke-linejoin="round"/>
<polygon points="413.5,565 415,555 416.5,545 421.5,541.5 428.5,541.5 430,548 432,553.5 437,558 442,563.5 437,568 433,572 427,576.5 423,582 420,587 418,582 415,572" fill="#6993d1" stroke="#6993d1" stroke-width="0.8" stroke-linejoin="round"/>
<polygon points="403.5,593.5 408.5,591.5 417,591.5 420,590.5 422,594 424.5,596.5 427.5,597.3 428.3,599.3 425.5,600.3 423,601.5 420,600 404,601" fill="#6993d1" stroke="#6993d1" stroke-width="0.8" stroke-linejoin="round"/>
<polygon points="404,601 416,600.3 417,607 413,608 404.5,610" fill="#6993d1" stroke="#6993d1" stroke-width="0.8" stroke-linejoin="round"/>
<polygon points="416,600.3 420,600 422.5,602 421,606.5 417,607" fill="#6993d1" stroke="#6993d1" stroke-width="0.8" stroke-linejoin="round"/>
<polygon points="403.5,618 408,616.3 412,613.3 415.5,609.8 416.3,611.5 412.5,615.5 408,618.5 404,619.8" fill="#6993d1" stroke="#6993d1" stroke-width="0.8" stroke-linejoin="round"/>
<polygon points="394,611 400,616 402,618.5 403,622 404,627 402,632 400,635.5 396.5,632 397,630 393.5,623 395,615" fill="#6993d1" stroke="#6993d1" stroke-width="0.8" stroke-linejoin="round"/>
<polygon points="395.5,631 397,630 396.5,632.5 399.5,637 401.5,642 397.5,642.5" fill="#6993d1" stroke="#6993d1" stroke-width="0.8" stroke-linejoin="round"/>
<polygon points="354.5,637.5 360,637.5 393.5,632.5 395.5,631 397.5,642.5 401.5,642 401,647 397,648 396,643 394,638 391,637 391.5,642 393,647 391.5,647 388,644 383.5,640 380,640.5 376.5,638.5 368,640 361.5,642" fill="#6993d1" stroke="#6993d1" stroke-width="0.8" stroke-linejoin="round"/>
<path d="M88.7 537.1 L88.0 537.0 L82.0 565.0 L84.0 570.0 L78.5 583.0 L73.5 605.5 L95.0 613.0 L117.0 617.0 L123.0 585.5 L117.0 587.0 L112.0 580.0 L108.0 581.0 L103.0 571.0 L96.0 553.0 L93.0 538.0 L92.3 537.9 M93.7 538.1 L93.0 538.0 L96.0 553.0 L103.0 571.0 L108.0 581.0 L112.0 580.0 L117.0 587.0 L123.0 585.5 L173.5 591.0 L175.0 583.0 L177.0 551.5 L176.3 551.4 M123.0 585.5 L117.0 617.0 L116.0 626.0 L132.5 629.0 L170.5 631.0 L172.5 610.0 L173.5 591.0 L123.0 585.5 M95.0 613.0 L86.5 662.5 L127.5 668.5 L132.5 629.0 L116.0 626.0 L117.0 617.0 L95.0 613.0 M119.3 723.8 L120.0 724.0 L127.5 668.5 L86.5 662.5 L85.0 668.0 L80.0 677.0 L79.8 677.7 M177.7 551.5 L177.0 551.5 L175.0 583.0 L228.5 584.5 L227.0 570.0 L225.0 553.5 L224.3 553.5 M175.0 583.0 L173.5 591.0 L172.5 610.0 L215.0 614.0 L222.0 615.5 L229.0 618.5 L230.0 607.5 L228.5 584.5 L175.0 583.0 M172.5 610.0 L170.5 631.0 L186.0 634.0 L186.0 644.0 L240.5 645.5 L238.5 643.5 L233.5 633.0 L229.0 618.5 L222.0 615.5 L215.0 614.0 L172.5 610.0 M186.0 644.0 L183.5 673.0 L245.0 677.5 L245.0 652.0 L243.0 650.0 L240.5 645.5 L186.0 644.0 M174.0 673.5 L173.7 678.0 L200.0 679.0 L199.0 700.0 L207.0 704.0 L220.0 707.5 L233.0 709.0 L243.0 710.0 L246.5 710.0 L246.5 681.0 L245.0 677.5 L183.5 673.0 L174.0 673.5 M253.4 748.9 L254.0 748.5 L253.5 740.0 L252.0 727.0 L251.5 717.5 L248.5 713.5 L246.5 710.0 L243.0 710.0 L233.0 709.0 L220.0 707.5 L207.0 704.0 L199.0 700.0 L200.0 679.0 L173.7 678.0 L171.0 722.0 L142.0 722.0 L142.7 722.7 M230.0 607.5 L229.0 618.5 L233.5 633.0 L238.5 643.5 L240.5 645.5 L267.0 644.0 L271.0 646.0 L270.0 640.0 L271.0 632.0 L275.0 621.0 L275.0 617.0 L274.0 616.0 L268.0 612.0 L265.0 606.5 L230.0 607.5 M240.5 645.5 L243.0 650.0 L245.0 652.0 L245.0 677.5 L246.5 681.0 L281.5 680.0 L281.0 684.0 L284.0 684.0 L284.0 681.0 L285.0 677.0 L290.0 671.5 L286.0 669.0 L282.0 664.0 L278.0 657.0 L272.0 650.0 L271.0 646.0 L267.0 644.0 L240.5 645.5 M246.5 681.0 L246.5 710.0 L248.5 713.5 L251.5 717.5 L272.5 716.0 L274.0 706.0 L278.0 693.0 L280.0 688.0 L281.0 684.0 L281.5 680.0 L246.5 681.0 M285.3 741.7 L285.0 741.0 L283.0 736.0 L271.5 736.5 L273.0 728.0 L274.0 722.0 L272.5 716.0 L251.5 717.5 L252.0 727.0 L253.5 740.0 L254.0 748.5 L254.7 748.7 M299.8 738.7 L300.5 738.5 L299.0 715.0 L298.5 692.5 L278.0 693.0 L274.0 706.0 L272.5 716.0 L274.0 722.0 L273.0 728.0 L271.5 736.5 L283.0 736.0 L285.0 741.0 L285.8 741.0 M312.3 741.0 L313.0 741.0 L312.0 736.0 L333.0 734.5 L332.0 728.0 L330.0 715.0 L325.0 690.5 L298.5 692.5 L299.0 715.0 L300.5 738.5 L301.2 738.4 M284.0 681.0 L284.0 684.0 L281.0 684.0 L280.0 688.0 L278.0 693.0 L298.5 692.5 L325.0 690.5 L333.0 689.5 L336.0 685.0 L340.0 680.0 L345.0 674.0 L347.0 669.5 L341.5 670.5 L300.0 678.0 L284.0 681.0 M284.0 681.0 L300.0 678.0 L341.5 670.5 L347.0 667.0 L343.0 664.0 L338.5 661.0 L330.0 660.0 L324.0 658.0 L318.0 653.5 L312.0 658.0 L306.0 661.0 L298.0 663.0 L295.0 664.0 L293.0 666.0 L290.0 671.5 L285.0 677.0 L284.0 681.0 M260.3 575.7 L258.5 576.5 L257.0 587.0 L257.0 593.0 L263.0 600.0 L265.0 606.5 L268.0 612.0 L274.0 616.0 L275.0 617.0 L294.0 616.5 L294.0 615.8 M293.5 578.5 L293.0 575.5 L289.5 572.0 L289.2 571.4 M290.2 571.7 L289.5 572.0 L293.0 575.5 L294.0 578.0 L294.2 578.0 M301.5 623.2 L301.0 624.0 L316.5 622.0 L330.0 620.5 L330.0 619.8 M297.7 624.8 L297.0 625.0 L297.5 633.0 L296.5 653.0 L295.0 664.0 L298.0 663.0 L306.0 661.0 L312.0 658.0 L318.0 653.5 L316.5 622.0 L301.0 624.0 L300.3 624.2 M330.7 620.7 L330.0 620.5 L316.5 622.0 L318.0 653.5 L324.0 658.0 L330.0 660.0 L338.5 661.0 L343.5 656.5 L346.5 648.5 L350.0 643.0 L352.5 638.5 L352.5 616.5 L351.8 617.1 M338.5 661.0 L343.0 664.0 L347.0 667.0 L352.0 665.5 L360.0 660.5 L365.0 653.0 L368.5 649.0 L373.0 642.0 L376.5 638.5 L368.0 640.0 L361.5 642.0 L360.0 637.5 L354.5 637.5 L354.0 628.0 L352.0 628.0 L352.5 638.5 L350.0 643.0 L346.5 648.5 L343.5 656.5 L338.5 661.0 M352.9 615.9 L352.5 616.5 L352.5 628.0 L354.0 628.0 L354.5 637.5 L360.0 637.5 L393.5 632.5 L395.5 631.0 L397.0 630.0 L393.5 623.0 L395.0 615.0 L394.0 611.0 L391.5 607.5 L356.0 612.0 L355.6 612.6 M398.2 665.7 L398.0 665.0 L347.0 669.5 L345.0 674.0 L340.0 680.0 L336.0 685.0 L333.0 689.5 L340.0 686.5 L350.0 683.5 L360.0 682.5 L367.0 685.0 L377.0 683.5 L383.5 690.5 L384.2 690.3 M383.1 691.0 L383.5 690.5 L377.0 683.5 L367.0 685.0 L360.0 682.5 L350.0 683.5 L340.0 686.5 L344.0 690.0 L353.5 696.5 L360.0 703.0 L367.0 711.0 L367.5 710.5 M366.8 711.7 L367.0 711.0 L360.0 703.0 L353.5 696.5 L344.0 690.0 L340.0 686.5 L333.0 689.5 L325.0 690.5 L330.0 715.0 L332.0 728.0 L333.0 734.5 L356.5 733.5 L357.5 731.0 L362.5 732.0 L362.6 731.3 M362.7 732.7 L362.5 732.0 L357.5 731.0 L356.5 733.5 L333.0 734.5 L312.0 736.0 L313.0 741.0 L313.7 740.8 M81.1 773.6 L81.6 773.8 L81.6 772.5 M82.3 773.5 L81.6 773.2 L82.2 774.0 M53.3 779.7 L52.4 780.1" fill="none" stroke="#f8bcae" stroke-width="1.6" stroke-opacity="0.6" stroke-linejoin="round" stroke-linecap="round"/>
<path d="M36.0 551.8 L36.0 552.5 L42.0 559.0 L55.0 562.0 L82.0 565.0 L88.0 537.0 L87.3 536.8 M49.3 601.3 L50.0 601.5 L73.5 605.5 L78.5 583.0 L84.0 570.0 L82.0 565.0 L55.0 562.0 L42.0 559.0 L36.0 552.5 L35.7 553.2 M79.5 676.4 L80.0 677.0 L85.0 668.0 L86.5 662.5 L95.0 613.0 L73.5 605.5 L50.0 601.5 L49.8 602.2 M132.5 629.0 L127.5 668.5 L174.0 673.5 L183.5 673.0 L186.0 634.0 L170.5 631.0 L132.5 629.0 M141.6 722.6 L142.0 722.0 L171.0 722.0 L174.0 673.5 L127.5 668.5 L120.0 724.0 L120.7 723.9 M225.7 553.5 L225.0 553.5 L227.0 570.0 L228.5 584.5 L230.0 607.5 L265.0 606.5 L263.0 600.0 L257.0 593.0 L257.0 587.0 L258.5 576.5 L259.9 575.1 M294.3 617.1 L294.0 616.5 L275.0 617.0 L275.0 621.0 L271.0 632.0 L270.0 640.0 L271.0 646.0 L272.0 650.0 L278.0 657.0 L282.0 664.0 L286.0 669.0 L290.0 671.5 L293.0 666.0 L295.0 664.0 L296.5 653.0 L297.5 633.0 L297.0 625.0 L296.8 624.3 M391.6 647.7 L391.5 647.0 L388.0 644.0 L383.5 640.0 L380.0 640.5 L376.5 638.5 L373.0 642.0 L368.5 649.0 L365.0 653.0 L360.0 660.5 L352.0 665.5 L347.0 667.0 L341.5 670.5 L347.0 669.5 L398.0 665.0 L398.0 664.3 M400.9 647.8 L401.0 647.0 L397.0 648.0 L397.0 648.7 M356.3 611.3 L356.0 612.0 L391.5 607.5 L394.0 611.0 L400.0 616.0 L402.0 618.5 L402.3 617.7 M404.3 610.7 L404.5 610.0 L404.0 601.0 L403.5 593.5 L403.0 585.0 L401.5 571.5 L400.8 571.8 M402.2 571.4 L401.5 571.5 L403.0 585.0 L403.5 593.5 L408.5 591.5 L409.0 580.0 L410.0 570.0 L409.3 570.1 M410.4 569.4 L410.0 570.0 L409.0 580.0 L408.5 591.5 L417.0 591.5 L420.0 590.5 L420.0 589.8 M420.0 587.7 L420.0 587.0 L418.0 582.0 L415.0 572.0 L413.5 565.0 L413.0 565.8 M413.6 564.3 L413.5 565.0 L415.0 572.0 L418.0 582.0 L420.0 587.0 L420.5 586.2 M420.3 591.1 L420.0 590.5 L417.0 591.5 L408.5 591.5 L403.5 593.5 L404.0 601.0 L420.0 600.0 L423.0 601.5 M416.3 607.2 L417.0 607.0 L416.0 600.3 L404.0 601.0 L404.5 610.0 L405.2 609.8 M422.5 602.0 L422.5 602.0 L420.0 600.0 L416.0 600.3 L417.0 607.0 L417.7 606.9 M402.2 619.2 L402.0 618.5 L400.0 616.0 L394.0 611.0 L395.0 615.0 L393.5 623.0 L397.0 630.0 L396.5 632.0 L398.0 633.5 M397.5 634.0 L396.5 632.5 L397.0 630.0 L395.5 631.0 L397.5 642.5 L401.5 642.0 L401.2 641.3 M401.4 642.7 L401.5 642.0 L397.5 642.5 L395.5 631.0 L393.5 632.5 L360.0 637.5 L354.5 637.5 L361.5 642.0 L368.0 640.0 L376.5 638.5 L380.0 640.5 L383.5 640.0 L388.0 644.0 L391.5 647.0 L392.2 647.0 M396.9 647.3 L397.0 648.0 L401.0 647.0 L401.1 646.3" fill="none" stroke="#adc4e6" stroke-width="1.6" stroke-opacity="0.6" stroke-linejoin="round" stroke-linecap="round"/>
<ellipse cx="422.5" cy="569" rx="5.5" ry="6" fill="#e58a80"/>
<circle cx="123.8" cy="763.4" r="1.5" fill="#56779f"/>
<circle cx="138.8" cy="769" r="1.7" fill="#56779f"/>
<circle cx="149.5" cy="773.5" r="1.5" fill="#56779f"/>
<circle cx="155.5" cy="775.8" r="1.7" fill="#56779f"/>
<circle cx="29" cy="765" r="1.1" fill="#c9a99a"/>
<circle cx="28" cy="749" r="1" fill="#c9a99a"/>
<polygon points="159.5,782.5 164,783.5 168,788 168.5,792 165,794.5 160.5,793.5 158,789 157.5,785" fill="#557aa6"/>
<polyline points="7,721.6 77.8,721.6 108.75,753 148,754 174.4,781 174.4,798.5" fill="none" stroke="#c3ccd3" stroke-width="1.1"/>
<polyline points="108.75,753 108.75,774.7 124,797.5" fill="none" stroke="#c3ccd3" stroke-width="1.1"/>
<line x1="403" y1="553" x2="410" y2="566" stroke="#6b7f88" stroke-width="1.5"/>
<line x1="397" y1="563" x2="401" y2="571" stroke="#6b7f88" stroke-width="1.5"/>
<line x1="426" y1="597" x2="438.5" y2="596.7" stroke="#6b7f88" stroke-width="1.5"/>
<line x1="421.5" y1="606.5" x2="438.5" y2="612.5" stroke="#6b7f88" stroke-width="1.5"/>
<line x1="415" y1="610" x2="436" y2="624" stroke="#6b7f88" stroke-width="1.5"/>
<line x1="405" y1="631.5" x2="425" y2="641" stroke="#6b7f88" stroke-width="1.5"/>
<line x1="401" y1="641.5" x2="423" y2="651.5" stroke="#6b7f88" stroke-width="1.5"/>
<line x1="398.5" y1="646.5" x2="420" y2="661.5" stroke="#6b7f88" stroke-width="1.5"/>
<line x1="383.5" y1="640" x2="410" y2="668.5" stroke="#6b7f88" stroke-width="1.5"/>
<rect x="395.3" y="713" width="8.6" height="8.8" fill="#5a80b2" stroke="#486a92" stroke-width="0.9"/>
<rect x="395.3" y="728" width="8.6" height="8.8" fill="#d27a74" stroke="#b66e68" stroke-width="0.9"/>
<text x="408" y="721.8" class="lg" textLength="53.3" lengthAdjust="spacing">Clinton</text>
<text x="408" y="737" class="lg" textLength="46.8" lengthAdjust="spacing">Trump</text>
<text x="64" y="551.4" class="n b" text-anchor="middle">12</text>
<text x="52.5" y="587.4" class="n b" text-anchor="middle">7</text>
<text x="68.5" y="636.4" class="n b" text-anchor="middle">6</text>
<text x="138.5" y="568.4" class="n" text-anchor="middle">3</text>
<text x="98.5" y="600.9" class="n" text-anchor="middle">4</text>
<text x="146.5" y="612.4" class="n" text-anchor="middle">3</text>
<text x="110" y="647.4" class="n" text-anchor="middle">6</text>
<text x="156.5" y="656.4" class="n b" text-anchor="middle">9</text>
<text x="101.5" y="694.9" class="n" text-anchor="middle">11</text>
<text x="146.5" y="700.9" class="n b" text-anchor="middle">5</text>
<text x="201.5" y="570.9" class="n" text-anchor="middle">3</text>
<text x="201" y="603.9" class="n" text-anchor="middle">3</text>
<text x="202.5" y="632.4" class="n" text-anchor="middle">5</text>
<text x="215" y="664.9" class="n" text-anchor="middle">6</text>
<text x="223.5" y="695.9" class="n" text-anchor="middle">7</text>
<text x="208.5" y="737.4" class="n" text-anchor="middle">38</text>
<text x="243.5" y="584.9" class="n b" text-anchor="middle">10</text>
<text x="251.5" y="629.9" class="n" text-anchor="middle">6</text>
<text x="262.5" y="665.9" class="n" text-anchor="middle">10</text>
<text x="261" y="703.9" class="n" text-anchor="middle">6</text>
<text x="263.5" y="733.9" class="n" text-anchor="middle">8</text>
<text x="278.5" y="600.9" class="n" text-anchor="middle">10</text>
<text x="287.5" y="646.4" class="n b" text-anchor="middle">20</text>
<text x="319" y="613.4" class="n" text-anchor="middle">16</text>
<text x="311.5" y="647.4" class="n" text-anchor="middle">11</text>
<text x="336.5" y="638.9" class="n" text-anchor="middle">18</text>
<text x="324" y="668.9" class="n" text-anchor="middle">8</text>
<text x="312.5" y="688.9" class="n" text-anchor="middle">11</text>
<text x="286.5" y="722.9" class="n" text-anchor="middle">6</text>
<text x="311.5" y="719.9" class="n" text-anchor="middle">9</text>
<text x="343.5" y="719.4" class="n" text-anchor="middle">16</text>
<text x="366.5" y="759.9" class="n" text-anchor="middle">29</text>
<text x="360" y="702.4" class="n" text-anchor="middle">9</text>
<text x="374" y="684.9" class="n" text-anchor="middle">15</text>
<text x="375" y="662.4" class="n b" text-anchor="middle">13</text>
<text x="352.5" y="654.9" class="n" text-anchor="middle">5</text>
<text x="374" y="627.4" class="n" text-anchor="middle">20</text>
<text x="391" y="601.4" class="n b" text-anchor="middle">29</text>
<text x="425" y="558.4" class="n b" text-anchor="middle">3</text>
<text x="422.5" y="574.9" class="n" text-anchor="middle">1</text>
<text x="62.5" y="758.9" class="n" text-anchor="middle">3</text>
<text x="134" y="787.4" class="n k" text-anchor="middle">4</text>
<text x="383" y="549.9000000000001" class="s">NH 4</text>
<text x="378" y="561.5" class="s">VT 3</text>
<text x="442" y="599.9000000000001" class="s">MA 11</text>
<text x="441" y="616.0" class="s">RI 4</text>
<text x="438" y="629.5" class="s">CT 7</text>
<text x="428.5" y="645.2" class="s">NJ 14</text>
<text x="425" y="655.7" class="s">DE 3</text>
<text x="422.5" y="664.9000000000001" class="s">MD 10</text>
<text x="413.3" y="675.2" class="s">DC 3</text>
</g>
</svg>
</body></html>
